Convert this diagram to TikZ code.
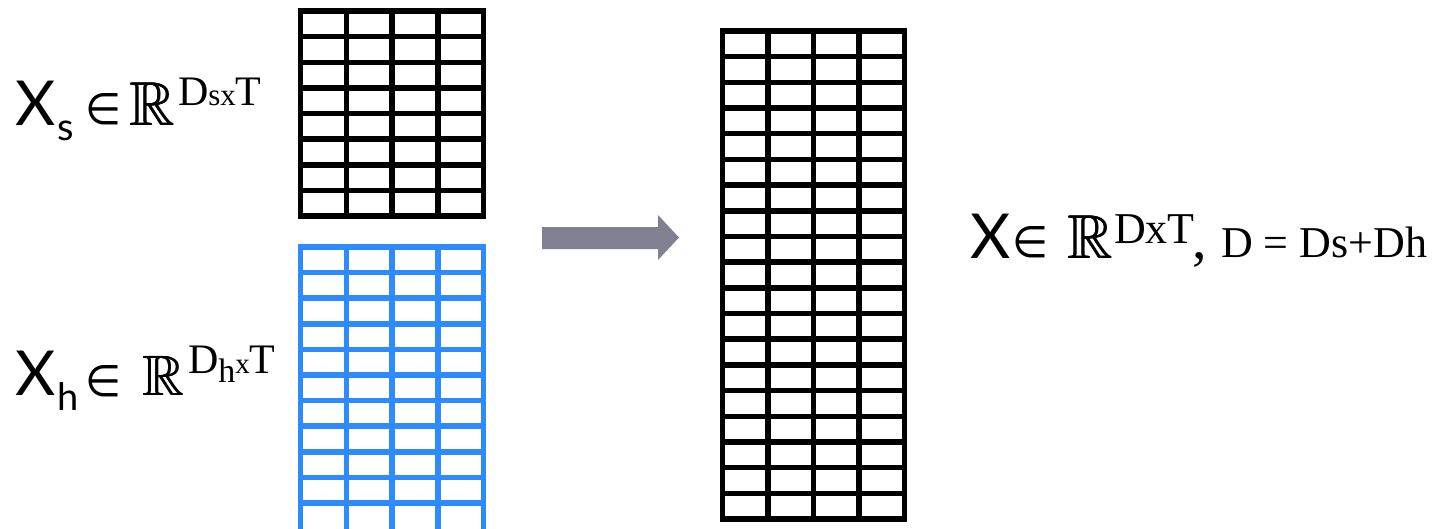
\documentclass[tikz,border=0pt]{standalone}
\usepackage{amssymb}
\usepackage{graphicx}
\usepackage{fontspec}
\newfontfamily\latof{Lato}
\newfontfamily\timesf{Liberation Serif}
\newfontfamily\dvf{DejaVu Sans}
\definecolor{gridblue}{RGB}{46,139,255}
\definecolor{arrowgray}{RGB}{128,128,145}
\newcommand{\elemglyph}{\resizebox{36pt}{31pt}{\dvf ∈}}
\newcommand{\boldreals}{\rlap{$\mathbb{R}$}\kern0.9pt\rlap{$\mathbb{R}$}\kern0.9pt$\mathbb{R}$}
\tikzset{
  gridline/.style={line width=5.5pt, line cap=rect},
  lbl/.style={inner sep=0pt, outer sep=0pt, anchor=base west},
  bigX/.style={lbl, font=\latof\fontsize{62}{62}\selectfont},
  subX/.style={lbl, font=\latof\fontsize{38}{38}\selectfont},
  elem/.style={lbl},
  reals/.style={lbl, font=\fontsize{62}{62}\selectfont},
  supT/.style={lbl, font=\timesf\fontsize{42}{42}\selectfont},
}
\begin{document}
\begin{tikzpicture}[x=1pt,y=-1pt]
\useasboundingbox (0,0) rectangle (1441,528);
\clip (0,0) rectangle (1441,528);

% top black grid (X_s)
\foreach \i in {0,...,4}
  \draw[gridline] ({300.5+\i*45.75},11) -- ({300.5+\i*45.75},216);
\foreach \j in {0,...,8}
  \draw[gridline] (300.5,{11+\j*25.625}) -- (483.5,{11+\j*25.625});

% blue grid (X_h)
\foreach \i in {0,...,4}
  \draw[gridline, gridblue] ({300.5+\i*45.75},247) -- ({300.5+\i*45.75},540);
\foreach \j in {0,...,10}
  \draw[gridline, gridblue] (300.5,{247+\j*25.6}) -- (483.5,{247+\j*25.6});

% right black grid (X)
\foreach \i in {0,...,4}
  \draw[gridline] ({722.5+\i*45.5},31) -- ({722.5+\i*45.5},519);
\foreach \j in {0,...,19}
  \draw[gridline] (722.5,{31+\j*25.684}) -- (904.5,{31+\j*25.684});

% block arrow
\fill[arrowgray] (542,227) -- (658,227) -- (658,215) -- (679,237.5)
  -- (658,260) -- (658,249) -- (542,249) -- cycle;

% label X_s
\node[bigX] (xs) at (16,125) {X};
\node[subX] (xssub) at (57,140) {s};
\node[elem] (xsin) at (85,124) {\elemglyph};
\node[reals] (xsR) at (129,125) {\boldreals};
\node[supT] (xssup) at (178,105) {D{\fontsize{31}{31}\selectfont sx}T};

% label X_h
\node[bigX] (xh) at (16,395) {X};
\node[subX] (xhsub) at (57,410) {h};
\node[elem] (xhin) at (85,396) {\elemglyph};
\node[reals, font=\fontsize{57}{57}\selectfont] (xhR) at (142,395) {\boldreals};
\node[supT] (xhsup) at (188,373) {D\raisebox{-9pt}{\fontsize{34}{34}\selectfont h}{\fontsize{29}{29}\selectfont x}T};

% label X
\node[bigX] (x) at (970,258) {X};
\node[elem] (xin) at (1012,257) {\elemglyph};
\node[reals] (xR) at (1067,258) {\boldreals};
\node[supT, font=\timesf\fontsize{44}{44}\selectfont] (xsup) at (1114,243) {DxT};
\node[supT, font=\timesf\fontsize{58}{58}\selectfont] (xcomma) at (1192,258) {,};
\node[supT, font=\timesf\fontsize{44}{44}\selectfont] (xeq) at (1221,257) {D = Ds+Dh};
\end{tikzpicture}
\end{document}
